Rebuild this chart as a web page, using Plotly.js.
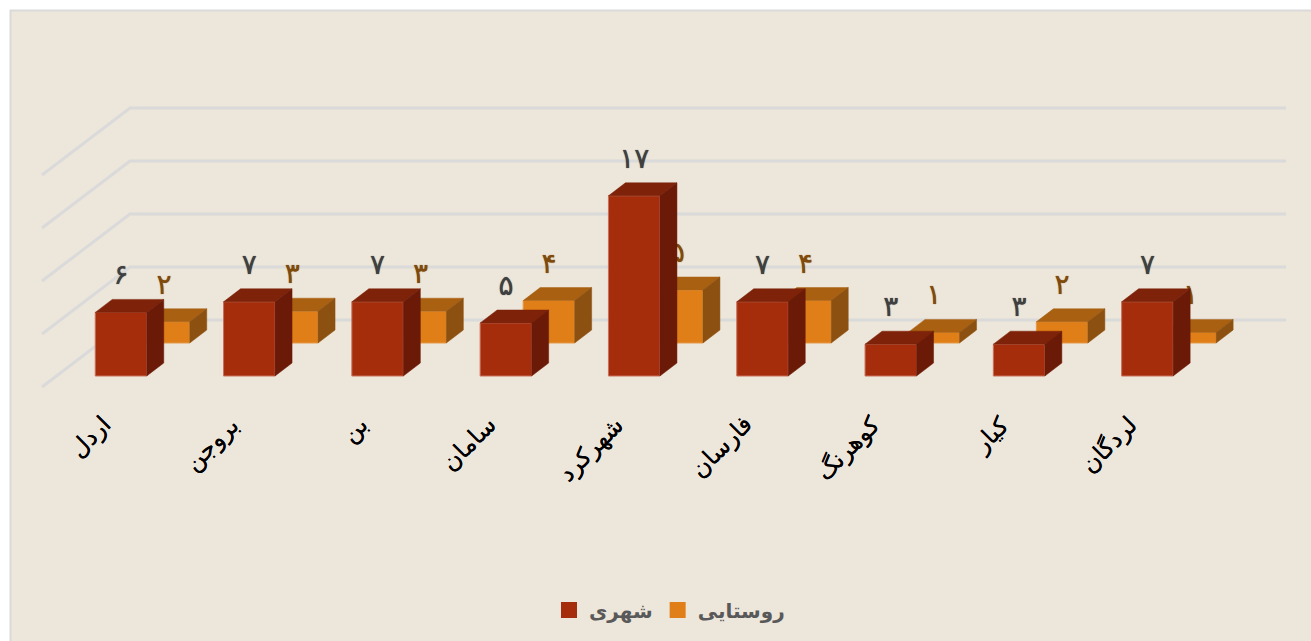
<!DOCTYPE html>
<html><head><meta charset="utf-8">
<script src="https://cdn.plot.ly/plotly-3.0.1.min.js"></script>
<style>html,body{margin:0;padding:0;background:#fff}#c{width:1311px;height:641px}</style>
</head><body><div id="c"></div>
<script>
const categories = ['اردل','بروجن','بن','سامان','شهرکرد','فارسان','کوهرنگ','کیار','لردگان'];
const urban = [6,7,7,5,17,7,3,3,7];
const rural = [2,3,3,4,5,4,1,2,1];
const persianDigits = ['۰','۱','۲','۳','۴','۵','۶','۷','۸','۹'];
const gridValues = [0,5,10,15,20];

const W=1311,H=641, FONT='"DejaVu Sans", sans-serif';
const stepPx=128.3, unitPx=10.6, barPx=51.5;
const depthX=17/stepPx, depthY=13/unitPx, barW=barPx/stepPx, labelGap=35/unitPx;
const fa = n => String(n).split('').map(d=>persianDigits[+d]).join('');
// each layer: category 0 centre pixel, value 0 pixel
const xRange = c => [-c/stepPx,(W-c)/stepPx];
const yRange = z => [(z-H)/unitPx, z/unitPx];

function faces(vals,xa,ya,topCol,sideCol){
  const tx=[],ty=[],sx=[],sy=[];
  vals.forEach((v,i)=>{
    const L=i-barW/2,R=i+barW/2;
    tx.push(L,L+depthX,R+depthX,R,L,null); ty.push(v,v+depthY,v+depthY,v,v,null);
    sx.push(R,R+depthX,R+depthX,R,R,null); sy.push(0,depthY,v+depthY,v,0,null);
  });
  const mk=(x,y,c)=>({type:'scatter',mode:'lines',x,y,xaxis:xa,yaxis:ya,fill:'toself',fillcolor:c,
    line:{color:c,width:0.5},showlegend:false,hoverinfo:'skip'});
  return [mk(tx,ty,topCol),mk(sx,sy,sideCol)];
}
function barTrace(name,vals,xa,ya,col,edge){
  return {type:'bar',name,x:categories.map((_,i)=>i),y:vals,width:barW,xaxis:xa,yaxis:ya,
    marker:{color:col,line:{color:edge,width:1}},showlegend:false};
}
function labels(vals,xa,ya,col){
  return {type:'scatter',mode:'text',x:vals.map((_,i)=>i),y:vals.map(v=>v+labelGap),
    text:vals.map(fa),textposition:'middle center',xaxis:xa,yaxis:ya,
    textfont:{family:FONT,size:28,color:col,shadow:'0 0 1px '+col},showlegend:false,hoverinfo:'skip',cliponaxis:false};
}
function legendKey(name,col){
  return {type:'scatter',mode:'markers',name,x:[null],y:[null],xaxis:'x3',yaxis:'y3',
    marker:{symbol:'square',size:16,color:col}};
}
// back wall and floor lines: left front end, back corner, right end
const wallDX=88/stepPx, wallDY=67/unitPx, wallEndX=(1286-130)/stepPx;
const gx=[],gy=[];
gridValues.forEach(v=>{gx.push(-wallDX,0,wallEndX,null);gy.push(v-wallDY,v,v,null);});

const traces=[
 {type:'scatter',mode:'lines',x:gx,y:gy,xaxis:'x',yaxis:'y',line:{color:'#DADADA',width:3},showlegend:false,hoverinfo:'skip'},
 barTrace('روستایی',rural,'x2','y2','#E07F18','#E59A4A'),
 ...faces(rural,'x2','y2','#A96011','#8C5110'),
 labels(rural,'x2','y2','#7F4A0C'),
 barTrace('شهری',urban,'x3','y3','#A52D0C','#C9705A'),
 ...faces(urban,'x3','y3','#7E2209','#6B1A07'),
 labels(urban,'x3','y3','#404040'),
 legendKey('شهری','#A52D0C'),
 legendKey('روستایی','#E07F18')
];
const hidden={visible:false,fixedrange:true};
const catLabelX=-2/stepPx, catLabelY=-32/unitPx;
const annotations=categories.map((t,i)=>({text:t,xref:'x3',yref:'y3',x:i+catLabelX,y:catLabelY,
  xanchor:'right',yanchor:'top',textangle:-45,showarrow:false,
  font:{family:FONT,size:24,color:'#000',shadow:'0 0 0.6px #000'}}));
const layout={
 width:W,height:H,margin:{l:0,r:0,t:0,b:0},paper_bgcolor:'#fff',plot_bgcolor:'rgba(0,0,0,0)',
 barmode:'overlay',hovermode:false,
 xaxis:{...hidden,range:xRange(130),domain:[0,1]},
 yaxis:{...hidden,range:yRange(320),domain:[0,1]},
 xaxis2:{...hidden,range:xRange(164),overlaying:'x'},
 yaxis2:{...hidden,range:yRange(343),overlaying:'y'},
 xaxis3:{...hidden,range:xRange(121),overlaying:'x'},
 yaxis3:{...hidden,range:yRange(376),overlaying:'y'},
 shapes:[{type:'rect',xref:'paper',yref:'paper',x0:10.5/W,x1:1.01,y0:-0.01,y1:1-10.5/H,layer:'below',
   fillcolor:'#EDE6DB',line:{color:'#DADADA',width:2}}],
 annotations,
 legend:{orientation:'h',x:0.5+14/W,xanchor:'center',y:31/H,yanchor:'middle',itemsizing:'trace',
   font:{family:FONT,size:20,color:'#595959',weight:700},bgcolor:'rgba(0,0,0,0)',traceorder:'normal'},
 showlegend:true
};
Plotly.newPlot('c',traces,layout,{staticPlot:true,displayModeBar:false});
</script></body></html>
